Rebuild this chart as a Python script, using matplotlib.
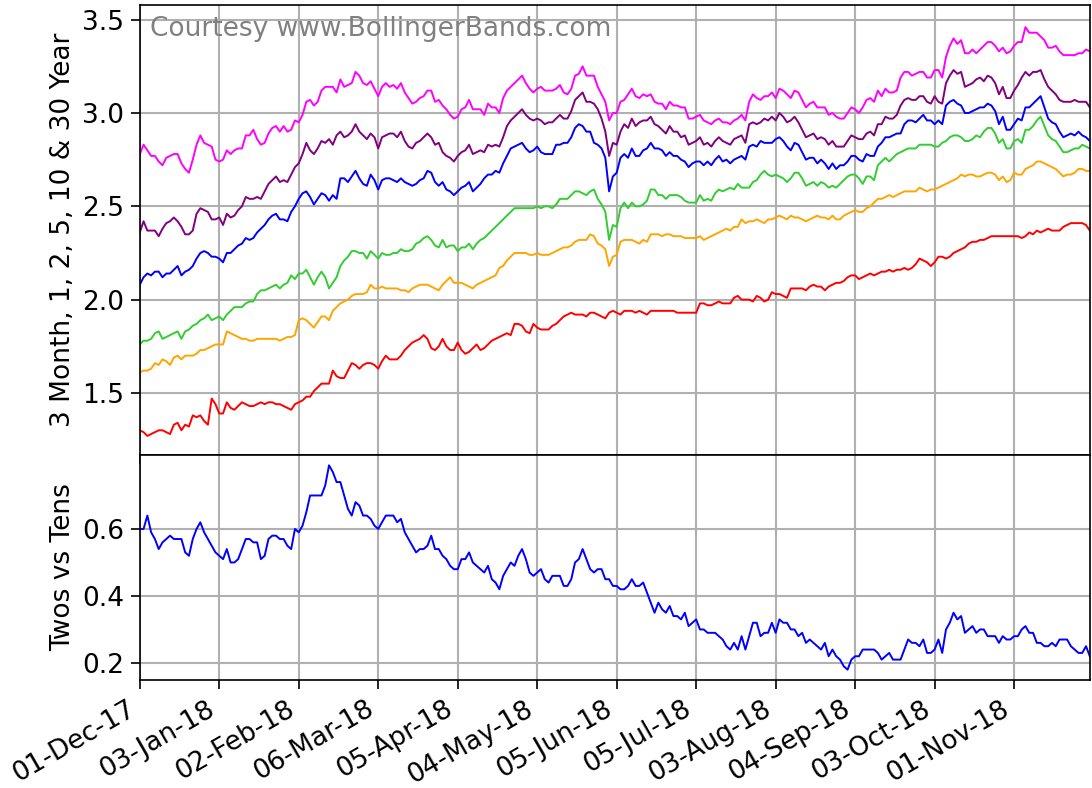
import numpy as np
import matplotlib
matplotlib.use('Agg')
import matplotlib.pyplot as plt

# tick labels, one every 21 trading days
tick_labels = ['01-Dec-17', '03-Jan-18', '02-Feb-18', '06-Mar-18', '05-Apr-18', '04-May-18',
               '05-Jun-18', '05-Jul-18', '03-Aug-18', '04-Sep-18', '03-Oct-18', '01-Nov-18']

# daily yields (Dec-17 .. early Dec-18)
m3 = [1.30, 1.29, 1.27, 1.28, 1.29, 1.30, 1.30, 1.29, 1.28, 1.33,
      1.34, 1.30, 1.33, 1.32, 1.38, 1.37, 1.38, 1.35, 1.33, 1.47,
      1.44, 1.39, 1.39, 1.45, 1.42, 1.41, 1.43, 1.45, 1.44, 1.43,
      1.43, 1.44, 1.45, 1.44, 1.45, 1.45, 1.44, 1.44, 1.43, 1.42,
      1.41, 1.44, 1.45, 1.46, 1.48, 1.48, 1.51, 1.53, 1.55, 1.55,
      1.55, 1.62, 1.59, 1.58, 1.58, 1.62, 1.66, 1.65, 1.63, 1.65,
      1.66, 1.66, 1.65, 1.63, 1.67, 1.70, 1.68, 1.68, 1.68, 1.70,
      1.73, 1.75, 1.77, 1.78, 1.79, 1.81, 1.79, 1.74, 1.73, 1.75,
      1.79, 1.75, 1.73, 1.73, 1.77, 1.73, 1.71, 1.72, 1.74, 1.76,
      1.73, 1.74, 1.76, 1.78, 1.79, 1.80, 1.81, 1.82, 1.81, 1.87,
      1.87, 1.86, 1.83, 1.82, 1.87, 1.85, 1.84, 1.84, 1.84, 1.86,
      1.87, 1.89, 1.91, 1.92, 1.93, 1.92, 1.92, 1.92, 1.91, 1.93,
      1.93, 1.92, 1.91, 1.90, 1.93, 1.94, 1.93, 1.92, 1.94, 1.94,
      1.94, 1.93, 1.94, 1.93, 1.92, 1.94, 1.94, 1.94, 1.94, 1.94,
      1.94, 1.94, 1.93, 1.93, 1.93, 1.93, 1.93, 1.93, 1.98, 1.98,
      1.97, 1.97, 1.98, 1.99, 1.98, 1.98, 1.98, 2.01, 2.02, 2.00,
      2.00, 2.00, 1.99, 2.02, 2.01, 1.99, 2.00, 2.04, 2.03, 2.03,
      2.02, 2.01, 2.06, 2.06, 2.06, 2.06, 2.05, 2.07, 2.08, 2.07,
      2.07, 2.05, 2.07, 2.08, 2.09, 2.09, 2.10, 2.12, 2.13, 2.13,
      2.11, 2.12, 2.13, 2.14, 2.13, 2.14, 2.15, 2.15, 2.16, 2.15,
      2.16, 2.16, 2.17, 2.16, 2.17, 2.19, 2.22, 2.21, 2.20, 2.18,
      2.20, 2.23, 2.23, 2.22, 2.23, 2.25, 2.26, 2.27, 2.28, 2.30,
      2.31, 2.31, 2.32, 2.32, 2.33, 2.34, 2.34, 2.34, 2.34, 2.34,
      2.34, 2.34, 2.34, 2.33, 2.34, 2.36, 2.35, 2.37, 2.36, 2.37,
      2.38, 2.37, 2.37, 2.37, 2.39, 2.40, 2.41, 2.41, 2.41, 2.41,
      2.40, 2.37]

y1 = [1.61, 1.62, 1.62, 1.63, 1.66, 1.65, 1.68, 1.67, 1.65, 1.69,
      1.70, 1.68, 1.70, 1.70, 1.70, 1.71, 1.73, 1.73, 1.74, 1.75,
      1.76, 1.76, 1.76, 1.83, 1.82, 1.81, 1.80, 1.79, 1.79, 1.78,
      1.78, 1.79, 1.79, 1.79, 1.79, 1.79, 1.79, 1.78, 1.79, 1.80,
      1.80, 1.81, 1.89, 1.90, 1.89, 1.87, 1.85, 1.88, 1.91, 1.91,
      1.89, 1.94, 1.96, 1.98, 1.99, 2.00, 2.02, 2.03, 2.03, 2.03,
      2.04, 2.08, 2.06, 2.06, 2.07, 2.06, 2.06, 2.06, 2.06, 2.05,
      2.05, 2.04, 2.06, 2.07, 2.08, 2.08, 2.08, 2.07, 2.06, 2.05,
      2.08, 2.10, 2.12, 2.09, 2.09, 2.09, 2.08, 2.07, 2.06, 2.08,
      2.09, 2.10, 2.11, 2.12, 2.13, 2.17, 2.18, 2.21, 2.23, 2.25,
      2.25, 2.25, 2.25, 2.24, 2.24, 2.25, 2.24, 2.24, 2.24, 2.25,
      2.26, 2.27, 2.28, 2.28, 2.29, 2.31, 2.32, 2.32, 2.32, 2.35,
      2.34, 2.30, 2.29, 2.27, 2.18, 2.23, 2.24, 2.31, 2.32, 2.32,
      2.32, 2.31, 2.30, 2.32, 2.31, 2.35, 2.35, 2.35, 2.34, 2.35,
      2.35, 2.34, 2.34, 2.34, 2.33, 2.33, 2.33, 2.33, 2.34, 2.32,
      2.33, 2.34, 2.35, 2.36, 2.37, 2.38, 2.37, 2.39, 2.39, 2.43,
      2.41, 2.42, 2.42, 2.43, 2.42, 2.41, 2.43, 2.43, 2.44, 2.45,
      2.44, 2.43, 2.45, 2.44, 2.44, 2.43, 2.42, 2.43, 2.44, 2.45,
      2.44, 2.44, 2.43, 2.45, 2.43, 2.43, 2.45, 2.46, 2.47, 2.48,
      2.47, 2.47, 2.49, 2.50, 2.52, 2.54, 2.54, 2.55, 2.56, 2.55,
      2.56, 2.57, 2.58, 2.58, 2.58, 2.58, 2.60, 2.59, 2.58, 2.59,
      2.59, 2.60, 2.61, 2.62, 2.63, 2.64, 2.65, 2.67, 2.66, 2.67,
      2.67, 2.66, 2.66, 2.67, 2.68, 2.68, 2.67, 2.64, 2.66, 2.63,
      2.64, 2.68, 2.67, 2.67, 2.70, 2.71, 2.72, 2.74, 2.74, 2.73,
      2.72, 2.71, 2.70, 2.68, 2.66, 2.67, 2.67, 2.68, 2.70, 2.70,
      2.69, 2.69]

y2 = [1.76, 1.78, 1.78, 1.79, 1.82, 1.83, 1.79, 1.80, 1.81, 1.82,
      1.83, 1.79, 1.83, 1.84, 1.86, 1.87, 1.89, 1.90, 1.92, 1.89,
      1.90, 1.91, 1.89, 1.92, 1.94, 1.96, 1.96, 1.96, 1.98, 1.99,
      1.99, 2.03, 2.05, 2.05, 2.06, 2.07, 2.08, 2.06, 2.08, 2.09,
      2.13, 2.11, 2.14, 2.14, 2.16, 2.12, 2.08, 2.12, 2.15, 2.12,
      2.06, 2.09, 2.12, 2.18, 2.21, 2.23, 2.26, 2.26, 2.25, 2.25,
      2.22, 2.26, 2.24, 2.22, 2.25, 2.24, 2.24, 2.25, 2.25, 2.27,
      2.26, 2.26, 2.27, 2.30, 2.31, 2.33, 2.34, 2.32, 2.29, 2.28,
      2.32, 2.28, 2.29, 2.29, 2.26, 2.28, 2.28, 2.30, 2.27, 2.30,
      2.32, 2.33, 2.35, 2.37, 2.39, 2.41, 2.43, 2.45, 2.47, 2.49,
      2.49, 2.49, 2.49, 2.49, 2.49, 2.50, 2.49, 2.50, 2.50, 2.49,
      2.51, 2.54, 2.54, 2.54, 2.56, 2.58, 2.58, 2.57, 2.56, 2.58,
      2.59, 2.54, 2.51, 2.47, 2.32, 2.40, 2.39, 2.49, 2.52, 2.49,
      2.52, 2.50, 2.50, 2.51, 2.53, 2.59, 2.59, 2.56, 2.56, 2.54,
      2.56, 2.56, 2.56, 2.55, 2.53, 2.52, 2.52, 2.52, 2.56, 2.53,
      2.54, 2.53, 2.57, 2.59, 2.58, 2.59, 2.60, 2.59, 2.62, 2.60,
      2.60, 2.60, 2.63, 2.64, 2.67, 2.69, 2.67, 2.66, 2.67, 2.66,
      2.65, 2.63, 2.65, 2.68, 2.68, 2.65, 2.61, 2.62, 2.63, 2.61,
      2.63, 2.62, 2.60, 2.61, 2.60, 2.62, 2.64, 2.66, 2.67, 2.67,
      2.65, 2.62, 2.66, 2.66, 2.64, 2.72, 2.74, 2.76, 2.74, 2.76,
      2.78, 2.79, 2.80, 2.81, 2.81, 2.81, 2.83, 2.83, 2.83, 2.83,
      2.82, 2.82, 2.84, 2.85, 2.87, 2.88, 2.88, 2.87, 2.85, 2.85,
      2.86, 2.88, 2.87, 2.90, 2.92, 2.92, 2.89, 2.84, 2.86, 2.81,
      2.81, 2.85, 2.86, 2.84, 2.91, 2.91, 2.93, 2.96, 2.98, 2.93,
      2.88, 2.86, 2.85, 2.82, 2.79, 2.79, 2.80, 2.81, 2.81, 2.83,
      2.82, 2.81]

y5 = [2.08, 2.12, 2.14, 2.13, 2.15, 2.15, 2.12, 2.14, 2.14, 2.16,
      2.18, 2.13, 2.15, 2.16, 2.18, 2.22, 2.25, 2.26, 2.25, 2.23,
      2.23, 2.22, 2.20, 2.25, 2.25, 2.27, 2.29, 2.30, 2.33, 2.32,
      2.33, 2.36, 2.38, 2.40, 2.43, 2.45, 2.46, 2.43, 2.43, 2.42,
      2.47, 2.50, 2.54, 2.57, 2.58, 2.55, 2.51, 2.54, 2.57, 2.56,
      2.53, 2.56, 2.54, 2.65, 2.65, 2.63, 2.66, 2.69, 2.65, 2.62,
      2.61, 2.67, 2.64, 2.59, 2.64, 2.65, 2.65, 2.64, 2.63, 2.65,
      2.63, 2.62, 2.61, 2.62, 2.64, 2.65, 2.69, 2.68, 2.63, 2.61,
      2.63, 2.59, 2.58, 2.56, 2.58, 2.60, 2.61, 2.63, 2.58, 2.60,
      2.62, 2.65, 2.67, 2.67, 2.69, 2.68, 2.73, 2.77, 2.81, 2.82,
      2.83, 2.84, 2.81, 2.79, 2.80, 2.82, 2.79, 2.78, 2.78, 2.78,
      2.83, 2.83, 2.84, 2.84, 2.87, 2.92, 2.94, 2.93, 2.90, 2.90,
      2.84, 2.83, 2.81, 2.76, 2.58, 2.66, 2.68, 2.76, 2.78, 2.76,
      2.81, 2.77, 2.77, 2.80, 2.81, 2.84, 2.81, 2.81, 2.80, 2.77,
      2.79, 2.77, 2.77, 2.75, 2.74, 2.71, 2.73, 2.74, 2.74, 2.72,
      2.74, 2.72, 2.75, 2.77, 2.74, 2.75, 2.73, 2.75, 2.76, 2.77,
      2.75, 2.82, 2.83, 2.82, 2.85, 2.84, 2.84, 2.84, 2.86, 2.87,
      2.85, 2.82, 2.80, 2.84, 2.83, 2.79, 2.75, 2.76, 2.76, 2.73,
      2.75, 2.73, 2.70, 2.73, 2.70, 2.72, 2.72, 2.74, 2.77, 2.77,
      2.75, 2.74, 2.78, 2.77, 2.77, 2.82, 2.84, 2.87, 2.87, 2.88,
      2.89, 2.89, 2.94, 2.96, 2.96, 2.95, 2.97, 2.99, 2.96, 2.96,
      2.94, 2.96, 2.94, 3.04, 3.06, 3.07, 3.05, 3.04, 3.00, 3.00,
      3.01, 3.02, 3.03, 3.03, 3.05, 3.04, 3.01, 2.94, 2.98, 2.91,
      2.91, 2.94, 2.97, 2.96, 3.03, 3.03, 3.05, 3.07, 3.09, 3.03,
      2.97, 2.95, 2.94, 2.90, 2.87, 2.88, 2.89, 2.88, 2.90, 2.88,
      2.87, 2.85]

y10 = [2.36, 2.42, 2.37, 2.37, 2.37, 2.34, 2.38, 2.41, 2.42, 2.44,
       2.42, 2.39, 2.35, 2.35, 2.37, 2.46, 2.49, 2.48, 2.47, 2.43,
       2.43, 2.44, 2.40, 2.46, 2.44, 2.45, 2.48, 2.50, 2.55, 2.54,
       2.54, 2.55, 2.54, 2.58, 2.62, 2.64, 2.66, 2.63, 2.64, 2.63,
       2.67, 2.71, 2.73, 2.78, 2.84, 2.80, 2.78, 2.81, 2.85, 2.84,
       2.86, 2.83, 2.88, 2.90, 2.87, 2.88, 2.90, 2.94, 2.90, 2.88,
       2.86, 2.89, 2.87, 2.81, 2.87, 2.88, 2.89, 2.89, 2.87, 2.90,
       2.85, 2.82, 2.81, 2.84, 2.85, 2.87, 2.89, 2.87, 2.83, 2.84,
       2.79, 2.77, 2.76, 2.74, 2.77, 2.79, 2.80, 2.83, 2.78, 2.79,
       2.80, 2.79, 2.83, 2.82, 2.83, 2.82, 2.87, 2.93, 2.96, 2.98,
       3.00, 3.02, 2.99, 2.97, 2.96, 2.97, 2.96, 2.94, 2.95, 2.95,
       2.97, 2.99, 2.97, 2.97, 3.01, 3.07, 3.09, 3.11, 3.06, 3.06,
       3.05, 3.02, 2.97, 2.90, 2.77, 2.84, 2.83, 2.90, 2.94, 2.92,
       2.97, 2.93, 2.95, 2.96, 2.96, 2.98, 2.94, 2.93, 2.91, 2.89,
       2.93, 2.90, 2.90, 2.87, 2.88, 2.83, 2.84, 2.85, 2.87, 2.83,
       2.84, 2.82, 2.85, 2.87, 2.85, 2.84, 2.83, 2.86, 2.87, 2.88,
       2.84, 2.94, 2.95, 2.94, 2.95, 2.97, 2.96, 2.98, 2.96, 3.00,
       2.98, 2.95, 2.96, 2.98, 2.95, 2.91, 2.87, 2.88, 2.89, 2.86,
       2.87, 2.86, 2.83, 2.85, 2.82, 2.82, 2.82, 2.85, 2.88, 2.87,
       2.86, 2.86, 2.89, 2.90, 2.88, 2.94, 2.94, 2.98, 2.97, 2.97,
       2.99, 3.04, 3.07, 3.08, 3.07, 3.07, 3.09, 3.09, 3.06, 3.05,
       3.09, 3.06, 3.05, 3.16, 3.20, 3.23, 3.21, 3.22, 3.14, 3.15,
       3.16, 3.18, 3.19, 3.17, 3.20, 3.19, 3.16, 3.10, 3.14, 3.08,
       3.08, 3.12, 3.15, 3.19, 3.22, 3.20, 3.22, 3.22, 3.23, 3.18,
       3.14, 3.12, 3.10, 3.07, 3.06, 3.06, 3.06, 3.07, 3.06, 3.06,
       3.06, 3.03]

y30 = [2.78, 2.83, 2.80, 2.77, 2.77, 2.74, 2.72, 2.76, 2.77, 2.78,
       2.78, 2.73, 2.70, 2.68, 2.75, 2.83, 2.88, 2.84, 2.83, 2.82,
       2.75, 2.74, 2.75, 2.80, 2.78, 2.80, 2.81, 2.81, 2.88, 2.88,
       2.91, 2.86, 2.83, 2.84, 2.89, 2.92, 2.93, 2.90, 2.93, 2.90,
       2.91, 2.96, 2.95, 2.99, 3.06, 3.07, 3.04, 3.06, 3.12, 3.14,
       3.14, 3.14, 3.11, 3.18, 3.14, 3.15, 3.16, 3.22, 3.20, 3.16,
       3.15, 3.17, 3.13, 3.09, 3.14, 3.16, 3.14, 3.15, 3.13, 3.16,
       3.11, 3.08, 3.05, 3.06, 3.08, 3.09, 3.12, 3.12, 3.06, 3.07,
       3.04, 3.02, 2.99, 2.97, 2.98, 3.02, 3.03, 3.07, 3.02, 3.02,
       3.02, 2.99, 3.05, 3.03, 3.03, 3.00, 3.08, 3.12, 3.14, 3.16,
       3.18, 3.20, 3.16, 3.13, 3.11, 3.13, 3.14, 3.12, 3.12, 3.12,
       3.13, 3.15, 3.11, 3.10, 3.13, 3.20, 3.21, 3.25, 3.20, 3.20,
       3.20, 3.14, 3.10, 3.06, 2.96, 3.00, 3.00, 3.06, 3.07, 3.10,
       3.13, 3.09, 3.08, 3.10, 3.09, 3.10, 3.06, 3.05, 3.05, 3.02,
       3.06, 3.04, 3.04, 3.03, 3.03, 2.97, 2.97, 2.98, 2.99, 2.96,
       2.95, 2.94, 2.96, 2.97, 2.95, 2.95, 2.94, 2.96, 2.97, 2.99,
       2.96, 3.06, 3.10, 3.08, 3.07, 3.09, 3.09, 3.11, 3.08, 3.13,
       3.12, 3.10, 3.08, 3.12, 3.11, 3.07, 3.03, 3.05, 3.06, 3.03,
       3.03, 3.03, 2.99, 3.00, 2.98, 2.97, 2.97, 3.00, 3.03, 3.02,
       3.00, 3.03, 3.07, 3.08, 3.06, 3.12, 3.09, 3.13, 3.11, 3.11,
       3.12, 3.19, 3.22, 3.22, 3.20, 3.21, 3.22, 3.22, 3.19, 3.19,
       3.23, 3.23, 3.19, 3.30, 3.36, 3.40, 3.37, 3.39, 3.32, 3.32,
       3.34, 3.32, 3.34, 3.36, 3.38, 3.38, 3.36, 3.33, 3.35, 3.32,
       3.33, 3.36, 3.38, 3.38, 3.46, 3.43, 3.43, 3.43, 3.41, 3.39,
       3.35, 3.35, 3.36, 3.33, 3.31, 3.31, 3.31, 3.31, 3.32, 3.32,
       3.34, 3.33]

# Twos vs Tens spread
spread = [0.60, 0.60, 0.64, 0.59, 0.57, 0.54, 0.56, 0.57, 0.58, 0.57,
          0.57, 0.57, 0.53, 0.52, 0.57, 0.60, 0.62, 0.59, 0.57, 0.55,
          0.53, 0.52, 0.51, 0.54, 0.50, 0.50, 0.51, 0.54, 0.57, 0.57,
          0.56, 0.56, 0.51, 0.52, 0.57, 0.58, 0.58, 0.57, 0.57, 0.55,
          0.54, 0.60, 0.59, 0.61, 0.65, 0.70, 0.70, 0.70, 0.70, 0.73,
          0.79, 0.77, 0.74, 0.74, 0.70, 0.66, 0.64, 0.68, 0.67, 0.64,
          0.64, 0.63, 0.61, 0.60, 0.62, 0.64, 0.64, 0.64, 0.62, 0.63,
          0.59, 0.57, 0.55, 0.53, 0.54, 0.54, 0.55, 0.58, 0.54, 0.54,
          0.52, 0.51, 0.49, 0.48, 0.48, 0.51, 0.51, 0.53, 0.50, 0.49,
          0.48, 0.47, 0.49, 0.45, 0.44, 0.42, 0.46, 0.48, 0.50, 0.49,
          0.52, 0.54, 0.51, 0.47, 0.46, 0.47, 0.48, 0.45, 0.44, 0.46,
          0.46, 0.46, 0.43, 0.43, 0.45, 0.50, 0.51, 0.54, 0.51, 0.48,
          0.47, 0.48, 0.48, 0.45, 0.45, 0.43, 0.43, 0.42, 0.42, 0.43,
          0.45, 0.43, 0.43, 0.44, 0.41, 0.38, 0.35, 0.38, 0.36, 0.35,
          0.37, 0.34, 0.34, 0.33, 0.35, 0.31, 0.32, 0.33, 0.30, 0.30,
          0.29, 0.29, 0.29, 0.28, 0.27, 0.25, 0.24, 0.26, 0.24, 0.28,
          0.24, 0.28, 0.32, 0.32, 0.28, 0.29, 0.29, 0.32, 0.29, 0.33,
          0.32, 0.32, 0.30, 0.30, 0.28, 0.29, 0.26, 0.27, 0.26, 0.25,
          0.24, 0.26, 0.22, 0.24, 0.22, 0.21, 0.19, 0.18, 0.21, 0.22,
          0.22, 0.24, 0.24, 0.24, 0.24, 0.23, 0.21, 0.22, 0.23, 0.21,
          0.21, 0.21, 0.24, 0.27, 0.26, 0.26, 0.25, 0.27, 0.23, 0.23,
          0.24, 0.27, 0.23, 0.30, 0.32, 0.35, 0.33, 0.34, 0.29, 0.30,
          0.31, 0.29, 0.30, 0.30, 0.28, 0.28, 0.28, 0.26, 0.28, 0.27,
          0.27, 0.28, 0.28, 0.30, 0.31, 0.29, 0.29, 0.26, 0.26, 0.25,
          0.25, 0.26, 0.25, 0.27, 0.27, 0.27, 0.25, 0.24, 0.23, 0.23,
          0.25, 0.22]

series = [m3, y1, y2, y5, y10, y30]
colors = ['red', 'orange', 'limegreen', 'blue', 'purple', 'magenta']

plt.rcParams['font.size'] = 19
plt.rcParams['axes.linewidth'] = 1.2
for a in ('xtick', 'ytick'):
    plt.rcParams[a + '.major.size'] = 6.5
    plt.rcParams[a + '.major.width'] = 1.2
    plt.rcParams[a + '.major.pad'] = 5

fig, (ax1, ax2) = plt.subplots(2, 1, sharex=True, figsize=(10.92, 7.88), dpi=100,
                               gridspec_kw={'height_ratios': [2, 1], 'hspace': 0})
fig.subplots_adjust(left=0.128, right=0.998, top=0.994, bottom=0.137)

for vals, col in zip(series, colors):
    ax1.plot(np.arange(len(vals)), vals, color=col, lw=1.4)
ax2.plot(np.arange(len(spread)), spread, color='blue', lw=1.4)

ax1.set_ylim(1.168, 3.58)
ax1.set_yticks([1.5, 2.0, 2.5, 3.0, 3.5])
ax1.set_ylabel('3 Month, 1, 2, 5, 10 & 30 Year')
ax1.text(0.0105, 0.975, 'Courtesy www.BollingerBands.com', transform=ax1.transAxes,
         color='gray', va='top', ha='left')

ax2.set_ylim(0.149, 0.821)
ax2.set_yticks([0.2, 0.4, 0.6])
ax2.set_ylabel('Twos vs Tens')

ax2.set_xlim(0, len(m3) - 1)
ax2.set_xticks(np.arange(len(tick_labels)) * 21)
ax2.set_xticklabels(tick_labels, rotation=30, ha='right')

for ax in (ax1, ax2):
    ax.grid(True, color='#b0b0b0', lw=1.5)
    ax.set_axisbelow(True)

fig.savefig('out.png', dpi=100)
